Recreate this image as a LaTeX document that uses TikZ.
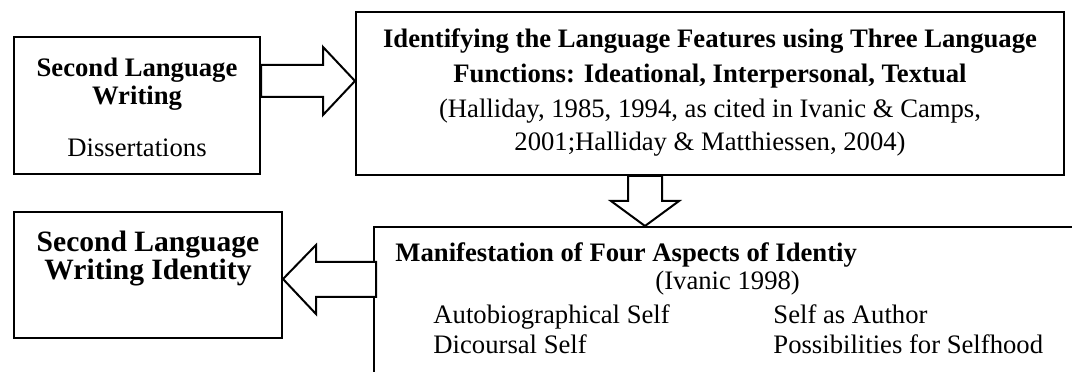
\documentclass[tikz,border=0pt]{standalone}
\usepackage{fontspec}
\setmainfont{Liberation Serif}
\usetikzlibrary{fit}
\begin{document}
\begin{tikzpicture}[x=0.45pt,y=-0.45pt,
  box/.style={draw, line width=0.9pt, inner sep=0pt},
  blockarrow/.style={draw, fill=white, line width=0.9pt, line join=miter},
  txt/.style={anchor=base, inner sep=0pt, font=\fontsize{12}{14}\selectfont},
  btxt/.style={anchor=base, inner sep=0pt, font=\fontsize{12}{14}\selectfont\bfseries},
  ltxt/.style={anchor=base west, inner sep=0pt, font=\fontsize{12}{14}\selectfont},
  lbtxt/.style={anchor=base west, inner sep=0pt, font=\fontsize{12}{14}\selectfont\bfseries},
  bigtxt/.style={anchor=base, inner sep=0pt, font=\fontsize{13.3}{15}\selectfont\bfseries}]
\useasboundingbox (0,0) rectangle (1072,372);

% boxes
\node[box, fit={(14,37) (260,174)}] (b1) {};
\node[box, fit={(356,12) (1064,175)}] (b2) {};
\node[box, fit={(14,212) (282,338)}] (b4) {};
\begin{scope}
  \clip (0,0) rectangle (1072,372);
  \node[box, fit={(374,227) (1100,400)}] (b3) {};
\end{scope}

% block arrows
\draw[blockarrow] (b1.east |- 0,65) -- (323,65) -- (323,47) -- (b2.west |- 0,81)
  -- (323,115) -- (323,97) -- (b1.east |- 0,97) -- cycle;
\draw[blockarrow] (628,0 |- b2.south) -- (628,201) -- (611,201) -- (645,0 |- b3.north)
  -- (679,201) -- (662,201) -- (662,0 |- b2.south) -- cycle;
\draw[blockarrow] (b4.east |- 0,279) -- (316,245) -- (316,262) -- (376,262)
  -- (376,297) -- (316,297) -- (316,314) -- cycle;

% box 1 text
\node[btxt] (t1a) at (137,77) {Second Language};
\node[btxt] (t1b) at (137,105) {Writing};
\node[txt] (t1c) at (137,157) {Dissertations};

% box 2 text
\node[btxt] (t2a) at (710,48) {Identifying the Language Features using Three Language};
\node[btxt] (t2b) at (710,83) {Functions: Ideational, Interpersonal, Textual};
\node[txt] (t2c) at (710,117.5) {(Halliday, 1985, 1994, as cited in Ivanic \& Camps,};
\node[txt] (t2d) at (710,151) {2001;Halliday \& Matthiessen, 2004)};

% box 4 text
\node[bigtxt] (t4a) at (148,252) {Second Language};
\node[bigtxt] (t4b) at (148,280) {Writing Identity};

% box 3 text
\node[lbtxt] (t3a) at (395,262) {Manifestation of Four Aspects of Identiy};
\node[ltxt] (t3b) at (655,290) {(Ivanic 1998)};
\node[ltxt] (t3c) at (433,323) {Autobiographical Self};
\node[ltxt] (t3d) at (433,353) {Dicoursal Self};
\node[ltxt] (t3e) at (773,323) {Self as Author};
\node[ltxt] (t3f) at (773,353) {Possibilities for Selfhood};
\end{tikzpicture}
\end{document}
